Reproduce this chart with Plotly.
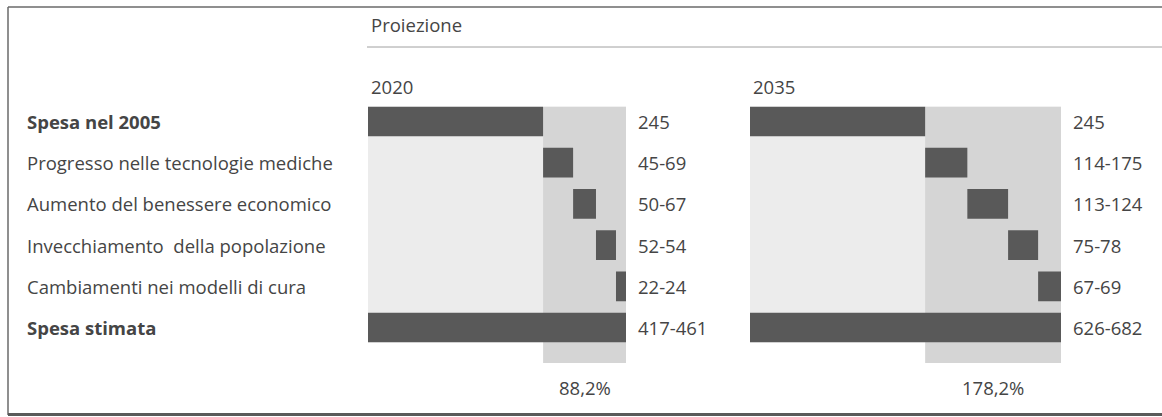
import plotly.graph_objects as go

W, H = 1162, 417

categories = ["Spesa nel 2005", "Progresso nelle tecnologie mediche",
              "Aumento del benessere economico", "Invecchiamento  della popolazione",
              "Cambiamenti nei modelli di cura", "Spesa stimata"]
bold_rows = [0, 5]

base_2005 = 245
# drawn widths of the increment bars (same units as the 245 base bar)
inc_2020 = [42, 32, 28, 14]
inc_2035 = [59, 57, 42, 32]

labels_2020 = ["245", "45-69", "50-67", "52-54", "22-24", "417-461"]
labels_2035 = ["245", "114-175", "113-124", "75-78", "67-69", "626-682"]
pct_2020 = "88,2%"
pct_2035 = "178,2%"
years = ["2020", "2035"]

DARK = "#595959"
LIGHT = "#ececec"
BAND = "#d5d5d5"
TXT = "#454545"
FONT = "Open Sans"
FS = 18.5


def px(x):
    return x / W


def py(y):
    return 1 - y / H


def panel_data(incs):
    lengths = [base_2005] + incs
    bases = [0]
    cum = base_2005
    for v in incs:
        bases.append(cum)
        cum += v
    lengths.append(cum)
    bases.append(0)
    return lengths, bases, cum


fig = go.Figure()
annotations = []
shapes = []

panels = [
    dict(incs=inc_2020, labels=labels_2020, pct=pct_2020, year=years[0], xa="x", ya="y", dom=[368, 626]),
    dict(incs=inc_2035, labels=labels_2035, pct=pct_2035, year=years[1], xa="x2", ya="y2", dom=[750, 1061]),
]

ROW0, STEP = 121.5, 41.2
YTOP, YBOT = -0.5, 6.9
ydom = [py(ROW0 + STEP * YBOT), py(ROW0 + STEP * YTOP)]
layout_axes = {}
for i, p in enumerate(panels):
    lengths, bases, total = panel_data(p["incs"])
    fig.add_trace(go.Bar(
        y=list(range(len(categories))), x=lengths, base=bases, orientation="h",
        marker=dict(color=DARK, line=dict(width=0)), width=0.72,
        xaxis=p["xa"], yaxis=p["ya"], showlegend=False, hoverinfo="skip"))
    shapes.append(dict(type="rect", xref=p["xa"], yref=p["ya"], x0=0, x1=total, y0=-0.36, y1=5.36,
                       fillcolor=LIGHT, line=dict(width=0), layer="below"))
    shapes.append(dict(type="rect", xref=p["xa"], yref=p["ya"], x0=base_2005, x1=total, y0=-0.36, y1=5.86,
                       fillcolor=BAND, line=dict(width=0), layer="below"))
    for r, lab in enumerate(p["labels"]):
        annotations.append(dict(x=total, y=r, xref=p["xa"], yref=p["ya"], text=lab, showarrow=False,
                                xanchor="left", yanchor="middle", xshift=10,
                                font=dict(family=FONT, size=FS, color=TXT)))
    annotations.append(dict(x=(base_2005 + total) / 2, y=6.45, xref=p["xa"], yref=p["ya"], text=p["pct"],
                            showarrow=False, xanchor="center", yanchor="middle",
                            font=dict(family=FONT, size=FS, color=TXT)))
    annotations.append(dict(x=px(p["dom"][0] + 1), y=py(86), xref="paper", yref="paper", text=p["year"],
                            showarrow=False, xanchor="left", yanchor="middle",
                            font=dict(family=FONT, size=FS, color=TXT)))
    sfx = "" if i == 0 else "2"
    layout_axes["xaxis" + sfx] = dict(domain=[px(p["dom"][0]), px(p["dom"][1])], range=[0, total],
                                      visible=False, fixedrange=True, anchor="y" + sfx)
    layout_axes["yaxis" + sfx] = dict(domain=ydom, range=[YBOT, YTOP], visible=False, fixedrange=True,
                                      anchor="x" + sfx)

for r, c in enumerate(categories):
    t = f"<b>{c}</b>" if r in bold_rows else c
    annotations.append(dict(x=px(25), y=r, xref="paper", yref="y", text=t, showarrow=False,
                            xanchor="left", yanchor="middle",
                            font=dict(family=FONT, size=FS, color=TXT)))

annotations.append(dict(x=px(369), y=py(25), xref="paper", yref="paper", text="Proiezione",
                        showarrow=False, xanchor="left", yanchor="middle",
                        font=dict(family=FONT, size=FS, color=TXT)))

# frame lines
shapes += [
    dict(type="line", xref="paper", yref="paper", x0=px(8), x1=1, y0=py(7), y1=py(7),
         line=dict(color="#6a6a6a", width=1.5)),
    dict(type="line", xref="paper", yref="paper", x0=px(8), x1=px(8), y0=py(7), y1=py(415),
         line=dict(color="#6a6a6a", width=1.5)),
    dict(type="line", xref="paper", yref="paper", x0=px(367), x1=1, y0=py(47), y1=py(47),
         line=dict(color="#a0a0a0", width=1)),
    dict(type="line", xref="paper", yref="paper", x0=px(8), x1=1, y0=py(414.5), y1=py(414.5),
         line=dict(color="#5a5a5a", width=3)),
]

fig.update_layout(
    width=W, height=H, margin=dict(l=0, r=0, t=0, b=0),
    paper_bgcolor="white", plot_bgcolor="rgba(0,0,0,0)",
    barmode="overlay", shapes=shapes, annotations=annotations,
    **layout_axes,
)

fig.write_html("out.html")
